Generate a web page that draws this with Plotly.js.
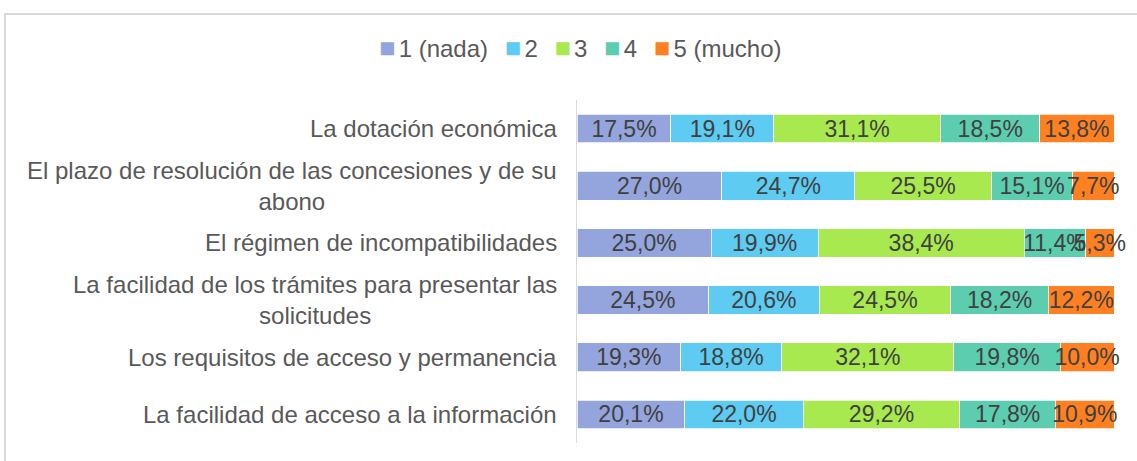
<!DOCTYPE html>
<html>
<head>
<meta charset="utf-8">
<script src="https://cdn.plot.ly/plotly-3.0.1.min.js"></script>
<style>
  html, body { margin: 0; padding: 0; overflow: hidden; background: #ffffff; }
  #frame { position: absolute; left: 4px; top: 13px; width: 1200px; height: 500px; border: 2px solid #d9d9d9; box-sizing: border-box; }
  #chart { position: absolute; left: 0; top: 0; width: 1137px; height: 461px; }
</style>
</head>
<body>
<div id="frame"></div>
<div id="chart"></div>
<script>
// Categories, top to bottom
const categories = [
  "La dotación económica",
  "El plazo de resolución de las concesiones y de su<br>abono",
  "El régimen de incompatibilidades",
  "La facilidad de los trámites para presentar las<br>solicitudes",
  "Los requisitos de acceso y permanencia",
  "La facilidad de acceso a la información"
];
const seriesNames = ["1 (nada)", "2", "3", "4", "5 (mucho)"];
const s1 = [17.5, 27.0, 25.0, 24.5, 19.3, 20.1];
const s2 = [19.1, 24.7, 19.9, 20.6, 18.8, 22.0];
const s3 = [31.1, 25.5, 38.4, 24.5, 32.1, 29.2];
const s4 = [18.5, 15.1, 11.4, 18.2, 19.8, 17.8];
const s5 = [13.8, 7.7, 5.3, 12.2, 10.0, 10.9];
const seriesValues = [s1, s2, s3, s4, s5];
const colors = ["#94A5DE", "#5DCBF2", "#A8E94F", "#5DCDB0", "#FF8021"];

const FONT = "Liberation Sans, Arial, sans-serif";

const traces = seriesNames.map((name, i) => ({
  type: "bar",
  orientation: "h",
  name: name,
  y: categories,
  x: seriesValues[i],
  marker: { color: colors[i], line: { color: "#ffffff", width: 0.75 } },
  texttemplate: "%{x:.1f}%",
  textposition: "inside",
  insidetextanchor: "middle",
  textangle: 0,
  constraintext: "none",
  cliponaxis: false,
  insidetextfont: { family: FONT, size: 23, color: "#404040" },
  hoverinfo: "skip"
}));

const annotations = categories.map(c => ({
  xref: "paper", yref: "y",
  x: 0, y: c,
  xanchor: "right", yanchor: "middle",
  xshift: -18,
  align: "center",
  showarrow: false,
  text: c,
  font: { family: FONT, size: 24, color: "#595959" }
}));

// Legend row (built from the series names and colours)
const legendText = seriesNames.map((n, i) =>
  '<span style="color:' + colors[i] + ';font-size:27px">\u25A0</span><span style="font-size:12px">\u00a0</span>' + n
).join('<span style="font-size:20px">\u00a0\u00a0\u00a0</span>');
annotations.push({
  xref: "paper", yref: "paper",
  x: 0.006, y: 1.151,
  xanchor: "center", yanchor: "middle",
  showarrow: false,
  text: legendText,
  font: { family: FONT, size: 24, color: "#595959" }
});

const layout = {
  width: 1137, height: 461,
  margin: { l: 577, r: 23, t: 100, b: 18, pad: 0 },
  paper_bgcolor: "rgba(0,0,0,0)",
  plot_bgcolor: "rgba(0,0,0,0)",
  barmode: "stack",
  bargap: 0.5,
  separators: ",.",
  font: { family: FONT, size: 22, color: "#595959" },
  xaxis: { range: [0, 100], visible: false, fixedrange: true },
  yaxis: {
    autorange: "reversed",
    showticklabels: false,
    ticks: "",
    showgrid: false,
    zeroline: false,
    showline: true,
    linecolor: "#d9d9d9",
    linewidth: 1.5,
    fixedrange: true
  },
  showlegend: false,
  annotations: annotations
};

Plotly.newPlot("chart", traces, layout, { staticPlot: true, displayModeBar: false });
</script>
</body>
</html>
